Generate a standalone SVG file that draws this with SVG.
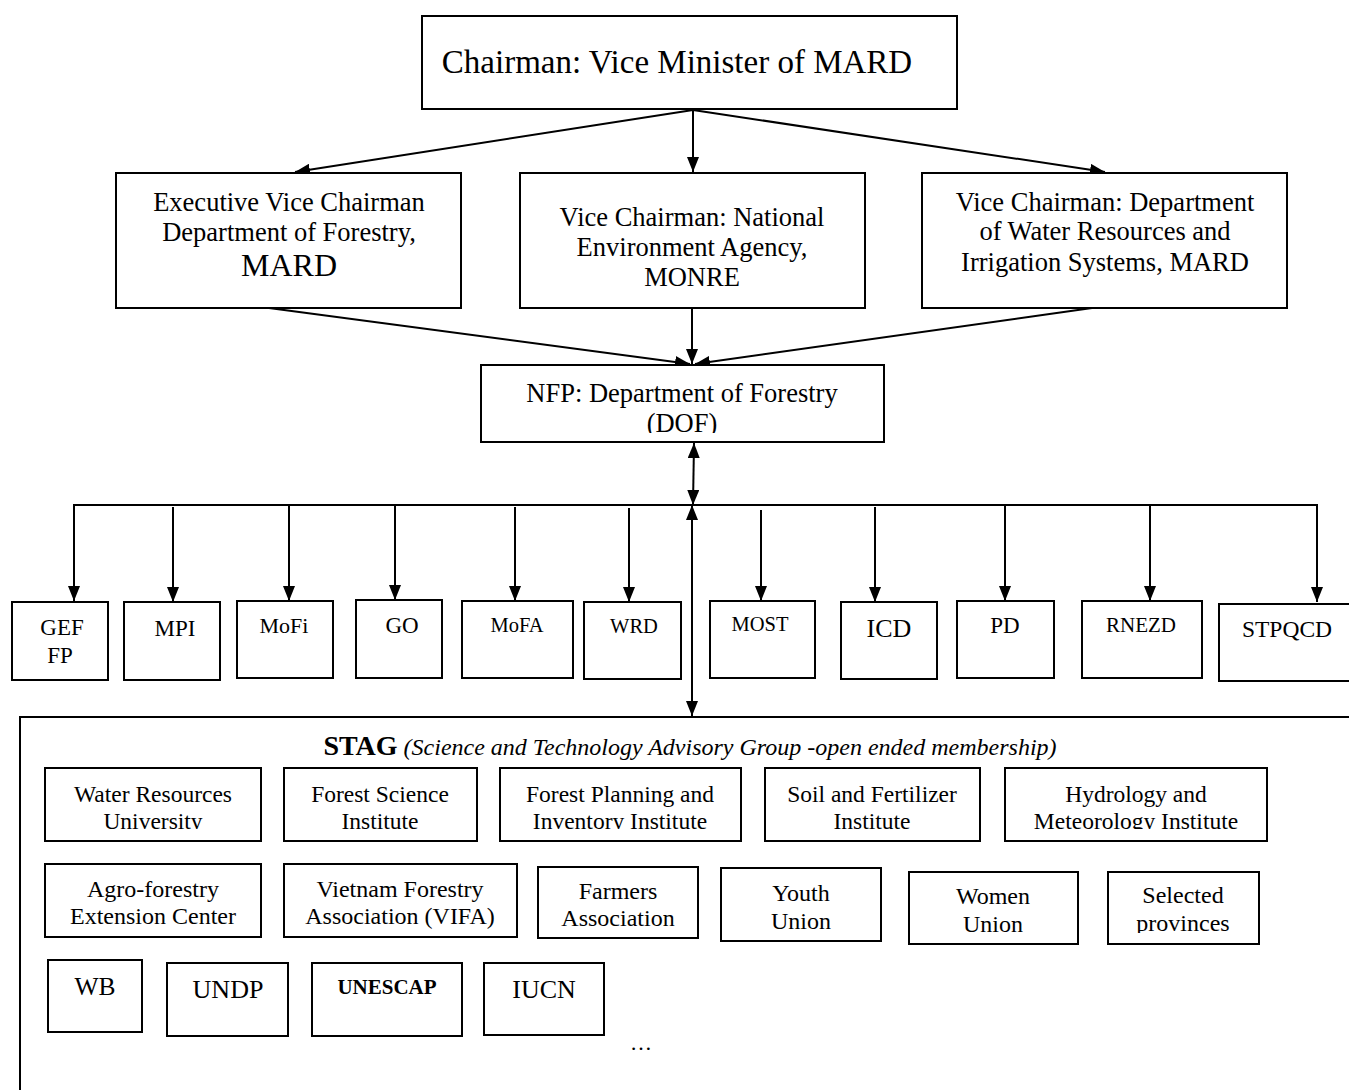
<svg xmlns="http://www.w3.org/2000/svg" width="1349" height="1090" viewBox="0 0 1349 1090">
<style>
  .box{fill:#fff;stroke:#000;stroke-width:2}
  .t{font-family:"Liberation Serif","Times New Roman",serif;fill:#000;text-anchor:middle}
  .c{fill:none;stroke:#000;stroke-width:2}
</style>
<defs>
  <marker id="arr" viewBox="0 0 15 12" refX="15" refY="6" markerWidth="15" markerHeight="12" markerUnits="userSpaceOnUse" orient="auto-start-reverse">
    <path d="M0,0 L15,6 L0,12 z" fill="#000"/>
  </marker>
  <clipPath id="clipDOF"><rect x="481" y="365" width="403" height="68"/></clipPath>
  <clipPath id="clipRow1"><rect x="20" y="768" width="1329" height="61"/></clipPath>
  <clipPath id="clipProv"><rect x="1108" y="872" width="151" height="61"/></clipPath>
</defs>
<rect x="0" y="0" width="1349" height="1090" fill="#fff"/>

<g id="connectors">
  <line class="c" x1="693" y1="110" x2="295" y2="172" marker-end="url(#arr)"/>
  <line class="c" x1="693" y1="110" x2="693" y2="172" marker-end="url(#arr)"/>
  <line class="c" x1="693" y1="110" x2="1105" y2="172" marker-end="url(#arr)"/>
  <line class="c" x1="269" y1="308" x2="690" y2="364" marker-end="url(#arr)"/>
  <line class="c" x1="692" y1="308" x2="692" y2="364" marker-end="url(#arr)"/>
  <line class="c" x1="1092" y1="308" x2="695" y2="364" marker-end="url(#arr)"/>
  <line class="c" x1="693" y1="505" x2="694" y2="443" marker-start="url(#arr)" marker-end="url(#arr)"/>
  <line class="c" x1="692" y1="505" x2="692" y2="716" marker-start="url(#arr)" marker-end="url(#arr)"/>
  <polyline class="c" points="74,600 74,505 1317,505 1317,600"/>
  <line class="c" x1="74" y1="560" x2="74" y2="601" marker-end="url(#arr)"/>
  <line class="c" x1="173" y1="507" x2="173" y2="602" marker-end="url(#arr)"/>
  <line class="c" x1="289" y1="505" x2="289" y2="601" marker-end="url(#arr)"/>
  <line class="c" x1="395" y1="505" x2="395" y2="600" marker-end="url(#arr)"/>
  <line class="c" x1="515" y1="507" x2="515" y2="601" marker-end="url(#arr)"/>
  <line class="c" x1="629" y1="508" x2="629" y2="602" marker-end="url(#arr)"/>
  <line class="c" x1="761" y1="510" x2="761" y2="601" marker-end="url(#arr)"/>
  <line class="c" x1="875" y1="507" x2="875" y2="602" marker-end="url(#arr)"/>
  <line class="c" x1="1005" y1="505" x2="1005" y2="601" marker-end="url(#arr)"/>
  <line class="c" x1="1150" y1="505" x2="1150" y2="601" marker-end="url(#arr)"/>
  <line class="c" x1="1317" y1="560" x2="1317" y2="602" marker-end="url(#arr)"/>
</g>

<g id="chairman">
  <rect class="box" x="422" y="16" width="535" height="93"/>
  <text class="t" x="677" y="73" font-size="33">Chairman: Vice Minister of MARD</text>
</g>

<g id="exec-vice">
  <rect class="box" x="116" y="173" width="345" height="135"/>
  <text class="t" x="289" y="211" font-size="26.5">Executive Vice Chairman</text>
  <text class="t" x="289" y="241" font-size="26.5">Department of Forestry,</text>
  <text class="t" x="289" y="276" font-size="32">MARD</text>
</g>

<g id="vice-monre">
  <rect class="box" x="520" y="173" width="345" height="135"/>
  <text class="t" x="692" y="226" font-size="26.5">Vice Chairman: National</text>
  <text class="t" x="692" y="256" font-size="26.5">Environment Agency,</text>
  <text class="t" x="692" y="286" font-size="26.5">MONRE</text>
</g>

<g id="vice-water">
  <rect class="box" x="922" y="173" width="365" height="135"/>
  <text class="t" x="1105" y="211" font-size="26.5">Vice Chairman: Department</text>
  <text class="t" x="1105" y="240" font-size="26.5">of Water Resources and</text>
  <text class="t" x="1105" y="271" font-size="26.5">Irrigation Systems, MARD</text>
</g>

<g id="nfp">
  <rect class="box" x="481" y="365" width="403" height="77"/>
  <g clip-path="url(#clipDOF)">
    <text class="t" x="682" y="402" font-size="26.5">NFP: Department of Forestry</text>
    <text class="t" x="682" y="432" font-size="26.5">(DOF)</text>
  </g>
</g>

<g id="gef"><rect class="box" x="12" y="602" width="96" height="78"/>
  <text class="t" x="62" y="635" font-size="23">GEF</text><text class="t" x="60" y="663" font-size="23">FP</text></g>
<g id="mpi"><rect class="box" x="124" y="602" width="96" height="78"/>
  <text class="t" x="175" y="636" font-size="23">MPI</text></g>
<g id="mofi"><rect class="box" x="237" y="601" width="96" height="77"/>
  <text class="t" x="284" y="633" font-size="22">MoFi</text></g>
<g id="go"><rect class="box" x="356" y="600" width="86" height="78"/>
  <text class="t" x="402" y="633" font-size="23">GO</text></g>
<g id="mofa"><rect class="box" x="462" y="601" width="111" height="77"/>
  <text class="t" x="517" y="632" font-size="20.5">MoFA</text></g>
<g id="wrd"><rect class="box" x="584" y="602" width="97" height="77"/>
  <text class="t" x="634" y="633" font-size="20.5">WRD</text></g>
<g id="most"><rect class="box" x="710" y="601" width="105" height="77"/>
  <text class="t" x="760" y="631" font-size="20.5">MOST</text></g>
<g id="icd"><rect class="box" x="841" y="602" width="96" height="77"/>
  <text class="t" x="889" y="637" font-size="26">ICD</text></g>
<g id="pd"><rect class="box" x="957" y="601" width="97" height="77"/>
  <text class="t" x="1005" y="633" font-size="23">PD</text></g>
<g id="rnezd"><rect class="box" x="1082" y="601" width="120" height="77"/>
  <text class="t" x="1141" y="632" font-size="21">RNEZD</text></g>
<g id="stpqcd"><rect class="box" x="1219" y="604" width="140" height="77"/>
  <text class="t" x="1287" y="637" font-size="23.5">STPQCD</text></g>

<g id="stag">
  <rect class="box" x="20" y="717" width="1350" height="400"/>
  <text class="t" x="690" y="755" font-size="24"><tspan font-weight="bold" font-size="28">STAG</tspan> <tspan font-style="italic">(Science and Technology Advisory Group -open ended membership)</tspan></text>
</g>

<g id="water-univ"><rect class="box" x="45" y="768" width="216" height="73"/>
  <g clip-path="url(#clipRow1)"><text class="t" x="153" y="802" font-size="23.5">Water Resources</text><text class="t" x="153" y="829" font-size="23.5">University</text></g></g>
<g id="forest-sci"><rect class="box" x="284" y="768" width="193" height="73"/>
  <g clip-path="url(#clipRow1)"><text class="t" x="380" y="802" font-size="23.5">Forest Science</text><text class="t" x="380" y="829" font-size="23.5">Institute</text></g></g>
<g id="forest-plan"><rect class="box" x="500" y="768" width="241" height="73"/>
  <g clip-path="url(#clipRow1)"><text class="t" x="620" y="802" font-size="23.5">Forest Planning and</text><text class="t" x="620" y="829" font-size="23.5">Inventory Institute</text></g></g>
<g id="soil"><rect class="box" x="765" y="768" width="215" height="73"/>
  <g clip-path="url(#clipRow1)"><text class="t" x="872" y="802" font-size="23.5">Soil and Fertilizer</text><text class="t" x="872" y="829" font-size="23.5">Institute</text></g></g>
<g id="hydro"><rect class="box" x="1005" y="768" width="262" height="73"/>
  <g clip-path="url(#clipRow1)"><text class="t" x="1136" y="802" font-size="23.5">Hydrology and</text><text class="t" x="1136" y="829" font-size="23.5">Meteorology Institute</text></g></g>

<g id="agro"><rect class="box" x="45" y="864" width="216" height="73"/>
  <text class="t" x="153" y="897" font-size="24">Agro-forestry</text><text class="t" x="153" y="924" font-size="24">Extension Center</text></g>
<g id="vifa"><rect class="box" x="284" y="864" width="233" height="73"/>
  <text class="t" x="400" y="897" font-size="24">Vietnam Forestry</text><text class="t" x="400" y="924" font-size="24">Association (VIFA)</text></g>
<g id="farmers"><rect class="box" x="538" y="867" width="160" height="71"/>
  <text class="t" x="618" y="899" font-size="24">Farmers</text><text class="t" x="618" y="926" font-size="24">Association</text></g>
<g id="youth"><rect class="box" x="721" y="868" width="160" height="73"/>
  <text class="t" x="801" y="901" font-size="24">Youth</text><text class="t" x="801" y="929" font-size="24">Union</text></g>
<g id="women"><rect class="box" x="909" y="872" width="169" height="72"/>
  <text class="t" x="993" y="904" font-size="24">Women</text><text class="t" x="993" y="932" font-size="24">Union</text></g>
<g id="provinces"><rect class="box" x="1108" y="872" width="151" height="72"/>
  <g clip-path="url(#clipProv)"><text class="t" x="1183" y="903" font-size="24">Selected</text><text class="t" x="1183" y="931" font-size="24">provinces</text></g></g>

<g id="wb"><rect class="box" x="48" y="960" width="94" height="72"/>
  <text class="t" x="95" y="995" font-size="25.5">WB</text></g>
<g id="undp"><rect class="box" x="167" y="963" width="121" height="73"/>
  <text class="t" x="228" y="998" font-size="26">UNDP</text></g>
<g id="unescap"><rect class="box" x="312" y="963" width="150" height="73"/>
  <text class="t" x="387" y="994" font-size="21" font-weight="bold">UNESCAP</text></g>
<g id="iucn"><rect class="box" x="484" y="963" width="120" height="72"/>
  <text class="t" x="544" y="998" font-size="26">IUCN</text></g>
<text class="t" x="641" y="1050" font-size="22">…</text>
</svg>
